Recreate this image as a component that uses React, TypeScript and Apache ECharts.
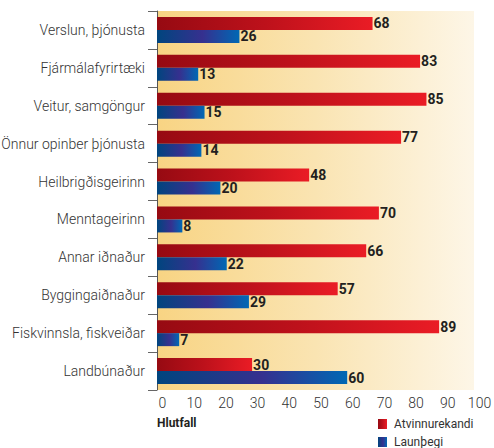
import React, { useEffect, useRef } from "react";
import * as echarts from "echarts";

const categories = [
  "Verslun, þjónusta",
  "Fjármálafyrirtæki",
  "Veitur, samgöngur",
  "Önnur opinber þjónusta",
  "Heilbrigðisgeirinn",
  "Menntageirinn",
  "Annar iðnaður",
  "Byggingaiðnaður",
  "Fiskvinnsla, fiskveiðar",
  "Landbúnaður",
];
const atvinnurekandi = [68, 83, 85, 77, 48, 70, 66, 57, 89, 30];
const launthegi = [26, 13, 15, 14, 20, 8, 22, 29, 7, 60];
const seriesNames = ["Atvinnurekandi", "Launþegi"];
const axisTitle = "Hlutfall";

const FONT = 'Roboto, "Noto Sans", sans-serif';

export default function App() {
  const ref = useRef<HTMLDivElement>(null);
  useEffect(() => {
    if (!ref.current) return;
    const chart = echarts.init(ref.current, null, { renderer: "svg" });
    const redGrad = new echarts.graphic.LinearGradient(0, 0, 1, 0, [
      { offset: 0, color: "#960a12" },
      { offset: 0.5, color: "#bd111b" },
      { offset: 1, color: "#ea1c25" },
    ]);
    const blueGrad = new echarts.graphic.LinearGradient(0, 0, 1, 0, [
      { offset: 0, color: "#00457e" },
      { offset: 0.55, color: "#36308f" },
      { offset: 1, color: "#0068b4" },
    ]);
    const label = {
      show: true,
      position: "right" as const,
      distance: 1,
      fontFamily: FONT,
      fontWeight: "bold" as const,
      fontSize: 14,
      color: "#231f20",
    };
    chart.setOption({
      animation: false,
      grid: {
        left: 157,
        right: 20,
        top: 11,
        bottom: 58,
        outerBoundsMode: "none",
        containLabel: false,
        show: true,
        borderWidth: 0,
        backgroundColor: new echarts.graphic.LinearGradient(0, 0, 1, 0, [
          { offset: 0, color: "#f8d483" },
          { offset: 0.5, color: "#fae4b2" },
          { offset: 1, color: "#fdf6e7" },
        ]),
      },
      xAxis: {
        type: "value",
        min: 0,
        max: 100,
        interval: 10,
        axisLine: { show: false },
        axisTick: { show: false },
        splitLine: { show: false },
        axisLabel: {
          margin: 6,
          padding: [0, 0, 0, 11],
          fontFamily: FONT,
          fontWeight: 300,
          fontSize: 14,
          color: "#333",
        },
      },
      yAxis: {
        type: "category",
        data: categories,
        inverse: true,
        axisLine: { show: true, lineStyle: { color: "#555", width: 1 } },
        axisTick: { show: true, length: 9, lineStyle: { color: "#666" } },
        axisLabel: {
          margin: 12,
          padding: [0, 0, 7, 0],
          fontFamily: FONT,
          fontWeight: 300,
          fontSize: 14,
          color: "#333",
        },
      },
      legend: {
        orient: "vertical",
        left: 378,
        top: 418,
        padding: 0,
        itemWidth: 9,
        itemHeight: 10,
        itemGap: 6,
        icon: "rect",
        textStyle: { fontFamily: FONT, fontSize: 12, color: "#333", padding: [0, 0, 0, 2] },
        data: seriesNames,
      },
      graphic: [
        {
          type: "text",
          left: 157,
          top: 417,
          style: {
            text: axisTitle,
            fontFamily: FONT,
            fontWeight: "bold",
            fontSize: 12,
            fill: "#231f20",
          },
        },
      ],
      series: [
        {
          name: seriesNames[0],
          type: "bar",
          data: atvinnurekandi,
          barWidth: 13,
          barGap: "0%",
          itemStyle: { color: redGrad },
          label,
        },
        {
          name: seriesNames[1],
          type: "bar",
          data: launthegi,
          barWidth: 13,
          barGap: "0%",
          itemStyle: { color: blueGrad },
          label,
        },
      ],
    });
    return () => chart.dispose();
  }, []);
  return <div ref={ref} style={{ width: 494, height: 448, position: "absolute", left: 0, top: 0 }} />;
}
